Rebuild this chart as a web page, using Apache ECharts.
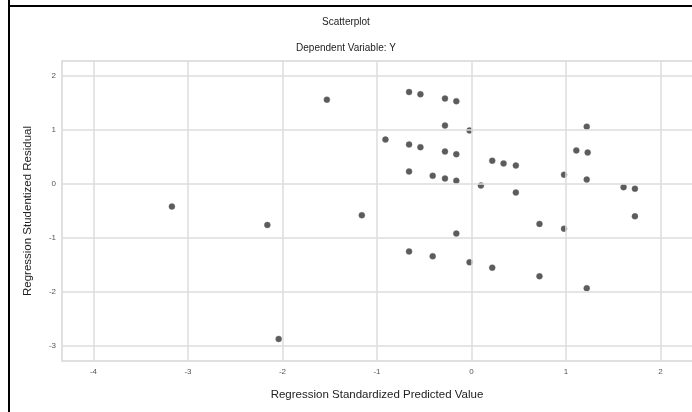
<!DOCTYPE html>
<html>
<head>
<meta charset="utf-8">
<script src="https://cdn.jsdelivr.net/npm/echarts@6/dist/echarts.min.js"></script>
<style>html,body{margin:0;padding:0;background:#fff}#c{width:692px;height:412px}</style>
</head>
<body>
<div id="c"></div>
<script>
const xValues = [-0.66,-0.54,-0.28,-0.16,-0.28,-0.02,-0.91,-0.66,-0.54,-0.28,-0.16,0.22,0.34,0.47,-0.66,-0.41,-0.28,-0.16,0.10,0.47,-1.16,-0.16,-0.66,-0.41,-0.02,0.22,1.22,1.11,1.23,0.98,1.22,1.61,1.73,1.73,0.72,0.98,0.72,1.22,-1.53,-3.17,-2.16,-2.04];
const yValues = [1.70,1.66,1.58,1.53,1.08,0.99,0.82,0.73,0.68,0.60,0.55,0.43,0.38,0.34,0.23,0.15,0.10,0.06,-0.03,-0.16,-0.58,-0.92,-1.25,-1.34,-1.45,-1.55,1.06,0.62,0.58,0.17,0.08,-0.06,-0.09,-0.60,-0.74,-0.83,-1.71,-1.93,1.56,-0.42,-0.76,-2.87];
const xTicks = [-4,-3,-2,-1,0,1,2];
const yTicks = [-3,-2,-1,0,1,2];
const titleText = 'Scatterplot';
const subtitleText = 'Dependent Variable: Y';
const xName = 'Regression Standardized Predicted Value';
const yName = 'Regression Studentized Residual';

const chart = echarts.init(document.getElementById('c'), null, {renderer:'canvas'});
const font = 'Liberation Sans';
const gridLines = xTicks.map(v => ({xAxis: v})).concat(yTicks.map(v => ({yAxis: v})));
chart.setOption({
  animation: false,
  backgroundColor: '#fff',
  textStyle: {fontFamily: font},
  title: [
    {text: titleText, left: 'center', top: 12, textStyle: {fontSize: 10, fontWeight: 'normal', color: '#222', fontFamily: font}},
    {text: subtitleText, left: 'center', top: 38, textStyle: {fontSize: 10, fontWeight: 'normal', color: '#222', fontFamily: font}}
  ],
  grid: {left: 62, top: 61, width: 640, height: 300, show: true, borderColor: '#d6d6d6', borderWidth: 1.5, outerBoundsMode: 'none', containLabel: false},
  xAxis: {
    type: 'value', min: -4.333, max: 2.44,
    name: xName, nameLocation: 'middle', nameGap: 28,
    nameTextStyle: {fontSize: 11.5, color: '#222', fontFamily: font, padding: [0, 10, 0, 0]},
    axisLine: {show: false}, axisTick: {show: false}, splitLine: {show: false},
    axisLabel: {customValues: xTicks, fontSize: 8, color: '#555', margin: 7, formatter: v => String(Math.round(v))}
  },
  yAxis: {
    type: 'value', min: -3.278, max: 2.275,
    name: yName, nameLocation: 'middle', nameGap: 28,
    nameTextStyle: {fontSize: 11.5, color: '#222', fontFamily: font},
    axisLine: {show: false}, axisTick: {show: false}, splitLine: {show: false},
    axisLabel: {customValues: yTicks, fontSize: 8, color: '#555', margin: 6, formatter: v => String(Math.round(v))}
  },
  graphic: [
    {type: 'line', shape: {x1: 9, y1: 0, x2: 9, y2: 412}, style: {stroke: '#000', lineWidth: 2}, z: 100},
    {type: 'line', shape: {x1: 9, y1: 6, x2: 692, y2: 6}, style: {stroke: '#000', lineWidth: 2}, z: 100}
  ],
  series: [
    {
      type: 'scatter', data: [], silent: true,
      markLine: {silent: true, symbol: ['none','none'], label: {show: false},
        lineStyle: {color: '#dcdcdc', type: 'solid', width: 1.5}, data: gridLines, animation: false}
    },
    {
      type: 'scatter', symbol: 'circle', symbolSize: 6,
      itemStyle: {color: '#333', borderColor: '#666', borderWidth: 0.5},
      data: xValues.map((x, i) => [x, yValues[i]])
    }
  ]
});
</script>
</body>
</html>
